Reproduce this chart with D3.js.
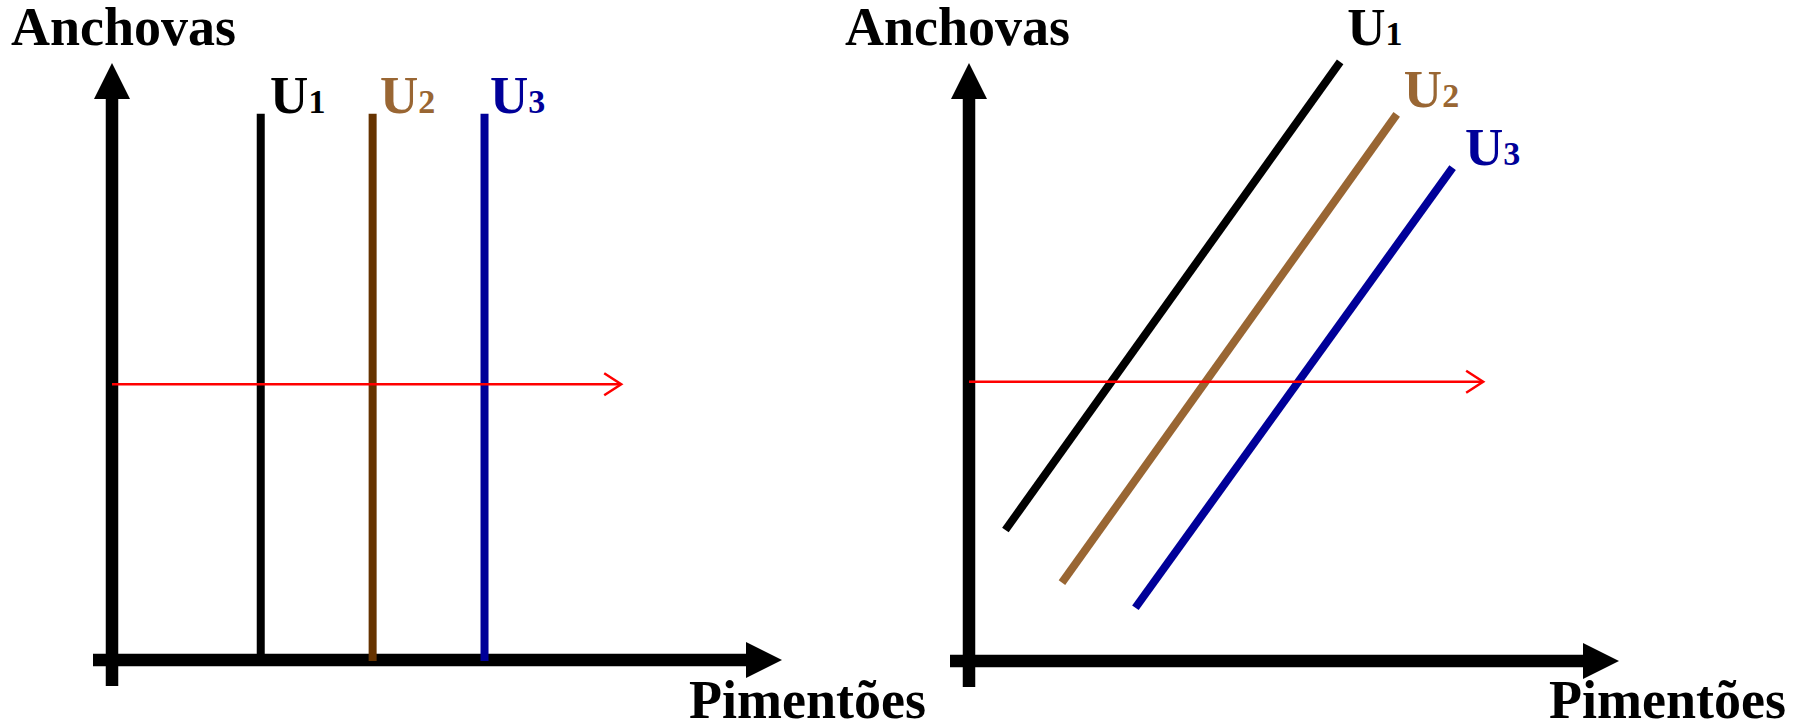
<!DOCTYPE html>
<html>
<head>
<meta charset="utf-8">
<script src="https://cdn.jsdelivr.net/npm/d3@7"></script>
<style>
  body { margin: 0; background: #fff; }
  text { font-family: "Liberation Serif", "Times New Roman", serif; font-weight: bold; }
</style>
</head>
<body>
<script>
// Indifference curves: perfect complements (left) vs perfect substitutes (right)

var curveNames = ["U", "U", "U"];
var curveSubs = ["1", "2", "3"];
var yAxisLabel = "Anchovas";
var xAxisLabel = "Pimentões";

// left panel: vertical lines at these x values, from y = 0 up to verticalTop
var verticalX = [22.2, 38.9, 55.6];
var verticalTop = 91.5;
var leftLabelX = [23.6, 40.0, 56.4];
var leftLabelY = [91.6, 91.6, 91.6];
var leftArrow = [[0, 46.2], [76, 46.2]];

// right panel: straight sloped lines, start and end points
var slopedStart = [[5.6, 21.9], [14.3, 13.1], [25.6, 8.9]];
var slopedEnd = [[57.1, 100.2], [65.8, 91.4], [74.4, 82.5]];
var rightLabelX = [58.2, 66.9, 76.3];
var rightLabelY = [103, 92.6, 82.9];
var rightArrow = [[0, 46.7], [79.1, 46.7]];

// styles
var leftLineColors = ["#000000", "#663300", "#000099"];
var rightLineColors = ["#000000", "#996633", "#000099"];
var labelColors = ["#000000", "#996633", "#000099"];

var svgWidth = 1798, svgHeight = 727;

var svg = d3.select("body")
    .append("svg")
        .attr("width", svgWidth)
        .attr("height", svgHeight);

function drawAxes(g, x, y, ox, oy) {
    var head = 36, half = 18, shaft = 12.5;
    var xTip = x(100), yTip = y(100);

    g.append("line")
        .attr("x1", ox - 19).attr("y1", oy)
        .attr("x2", xTip - head + 1).attr("y2", oy)
        .attr("stroke", "#000").attr("stroke-width", shaft);
    g.append("path")
        .attr("d", "M" + (xTip - head) + "," + (oy - half) + "L" + xTip + "," + oy + "L" + (xTip - head) + "," + (oy + half) + "Z")
        .attr("fill", "#000");

    g.append("line")
        .attr("x1", ox).attr("y1", oy + 26)
        .attr("x2", ox).attr("y2", yTip + head - 1)
        .attr("stroke", "#000").attr("stroke-width", shaft);
    g.append("path")
        .attr("d", "M" + (ox - half) + "," + (yTip + head) + "L" + ox + "," + yTip + "L" + (ox + half) + "," + (yTip + head) + "Z")
        .attr("fill", "#000");
}

function drawRedArrow(g, x, y, pts) {
    var x0 = x(pts[0][0]), x1 = x(pts[1][0]), yy = y(pts[0][1]);
    g.append("line")
        .attr("x1", x0).attr("y1", yy)
        .attr("x2", x1 - 1).attr("y2", yy)
        .attr("stroke", "red").attr("stroke-width", 2.5);
    g.append("path")
        .attr("d", "M" + (x1 - 17) + "," + (yy - 11) + "L" + x1 + "," + yy + "L" + (x1 - 17) + "," + (yy + 11))
        .attr("fill", "none")
        .attr("stroke", "red").attr("stroke-width", 2.5);
}

function drawLabels(g, x, y, xs, ys) {
    var lab = g.selectAll("text.ulab")
        .data(curveNames)
        .enter().append("text")
            .attr("class", "ulab")
            .attr("x", function(d, i) { return x(xs[i]); })
            .attr("y", function(d, i) { return y(ys[i]); })
            .attr("fill", function(d, i) { return labelColors[i]; });
    lab.append("tspan").style("font-size", "53px").text(function(d) { return d; });
    lab.append("tspan").style("font-size", "34px").text(function(d, i) { return curveSubs[i]; });
}

// ---------- left panel ----------
var xL = d3.scaleLinear().domain([0, 100]).range([112, 782]);
var yL = d3.scaleLinear().domain([0, 100]).range([660, 63]);
var gL = svg.append("g");

drawAxes(gL, xL, yL, 112, 660);

gL.selectAll("line.vline")
    .data(verticalX)
    .enter().append("line")
        .attr("class", "vline")
        .attr("x1", function(d) { return xL(d); })
        .attr("x2", function(d) { return xL(d); })
        .attr("y1", yL(0) + 1)
        .attr("y2", yL(verticalTop))
        .attr("stroke", function(d, i) { return leftLineColors[i]; })
        .attr("stroke-width", 8);

drawRedArrow(gL, xL, yL, leftArrow);
drawLabels(gL, xL, yL, leftLabelX, leftLabelY);

gL.append("text").attr("x", 11).attr("y", 45).style("font-size", "54px").text(yAxisLabel);
gL.append("text").attr("x", 689).attr("y", 718).style("font-size", "54px").text(xAxisLabel);

// ---------- right panel ----------
var xR = d3.scaleLinear().domain([0, 100]).range([969, 1619]);
var yR = d3.scaleLinear().domain([0, 100]).range([661, 63]);
var gR = svg.append("g");

drawAxes(gR, xR, yR, 969, 661);

gR.selectAll("line.sline")
    .data(slopedStart)
    .enter().append("line")
        .attr("class", "sline")
        .attr("x1", function(d) { return xR(d[0]); })
        .attr("y1", function(d) { return yR(d[1]); })
        .attr("x2", function(d, i) { return xR(slopedEnd[i][0]); })
        .attr("y2", function(d, i) { return yR(slopedEnd[i][1]); })
        .attr("stroke", function(d, i) { return rightLineColors[i]; })
        .attr("stroke-width", 8);

drawRedArrow(gR, xR, yR, rightArrow);
drawLabels(gR, xR, yR, rightLabelX, rightLabelY);

gR.append("text").attr("x", 845).attr("y", 45).style("font-size", "54px").text(yAxisLabel);
gR.append("text").attr("x", 1549).attr("y", 718).style("font-size", "54px").text(xAxisLabel);
</script>
</body>
</html>
